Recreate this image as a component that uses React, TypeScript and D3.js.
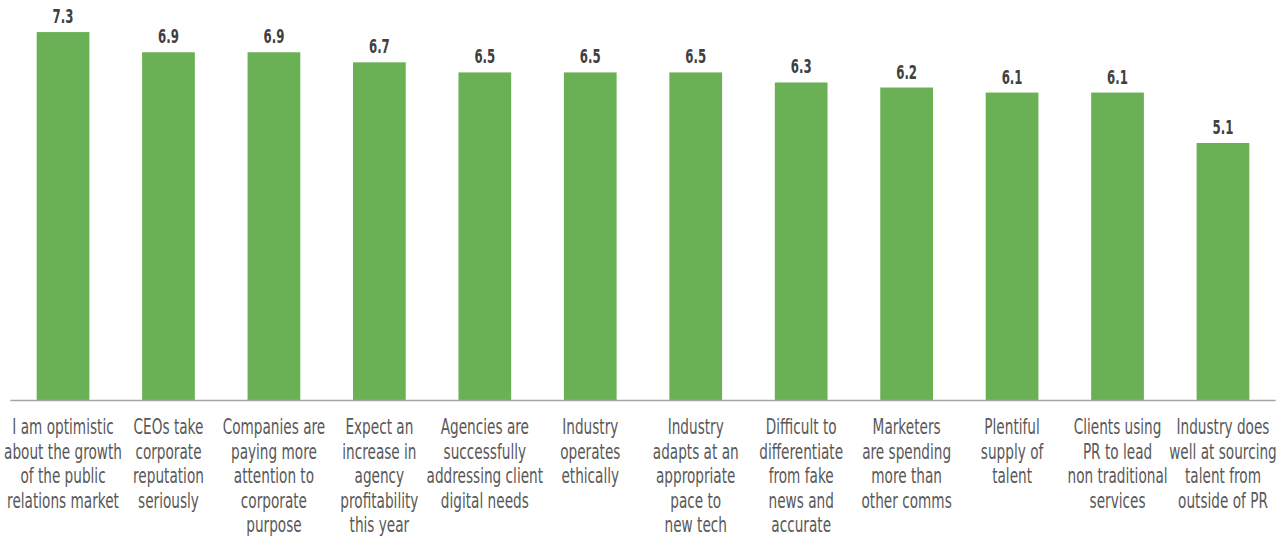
import React from "react";
import * as d3 from "d3";

const categories: string[][] = [
  ["I am optimistic", "about the growth", "of the public", "relations market"],
  ["CEOs take", "corporate", "reputation", "seriously"],
  ["Companies are", "paying more", "attention to", "corporate", "purpose"],
  ["Expect an", "increase in", "agency", "profitability", "this year"],
  ["Agencies are", "successfully", "addressing client", "digital needs"],
  ["Industry", "operates", "ethically"],
  ["Industry", "adapts at an", "appropriate", "pace to", "new tech"],
  ["Difficult to", "differentiate", "from fake", "news and", "accurate"],
  ["Marketers", "are spending", "more than", "other comms"],
  ["Plentiful", "supply of", "talent"],
  ["Clients using", "PR to lead", "non traditional", "services"],
  ["Industry does", "well at sourcing", "talent from", "outside of PR"],
];
const values: number[] = [7.3, 6.9, 6.9, 6.7, 6.5, 6.5, 6.5, 6.3, 6.2, 6.1, 6.1, 5.1];

const W = 1283;
const H = 536;
const left = 10.3;
const right = 1275.7;
const baseline = 400;
const FONT = "'DejaVu Sans', sans-serif";

export default function App() {
  const idx = values.map((_, i) => i);
  const x = d3.scaleBand<number>().domain(idx).range([left, right]).paddingInner(0.5).paddingOuter(0.25);
  const y = d3.scaleLinear().domain([0, 8]).range([baseline, baseline - 8 * 50.4]);
  return (
    <svg width={W} height={H} style={{ position: "absolute", left: 0, top: 0 }}>
      <rect width={W} height={H} fill="#ffffff" />
      {idx.map((i) => {
        const cx = x(i)! + x.bandwidth() / 2;
        return (
          <g key={i}>
            <rect x={x(i)} y={y(values[i])} width={x.bandwidth()} height={baseline - y(values[i])} fill="#6ab155" />
            <text
              transform={`translate(${cx},${y(values[i]) - 9}) scale(0.62,1)`}
              textAnchor="middle"
              fontFamily={FONT}
              fontWeight="bold"
              fontSize={19}
              fill="#404040"
            >
              {d3.format(".1f")(values[i])}
            </text>
            {categories[i].map((line, j) => (
              <text
                key={j}
                transform={`translate(${cx},${434 + j * 24.5}) scale(0.65,1)`}
                textAnchor="middle"
                fontFamily={FONT}
                fontSize={21}
                fill="#595959"
              >
                {line}
              </text>
            ))}
          </g>
        );
      })}
      <line x1={left} x2={right} y1={baseline + 0.5} y2={baseline + 0.5} stroke="#a6a6a6" strokeWidth={1.5} />
    </svg>
  );
}
